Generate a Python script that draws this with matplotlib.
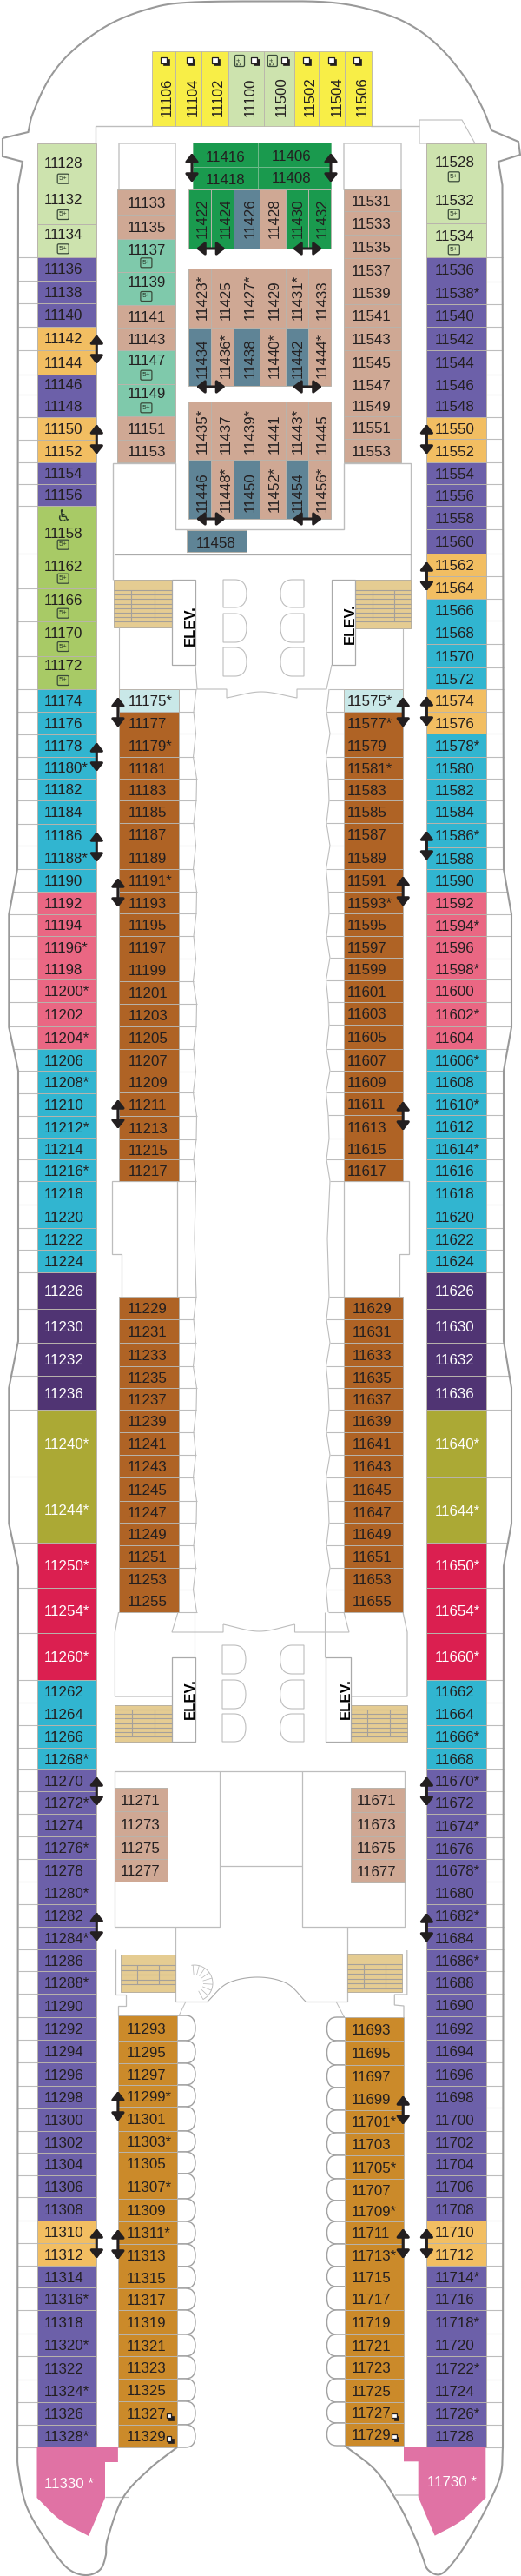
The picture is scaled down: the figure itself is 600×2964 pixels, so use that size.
import numpy as np
import matplotlib
matplotlib.use("Agg")
import matplotlib.pyplot as plt
from matplotlib.patches import Polygon, Rectangle, PathPatch, FancyBboxPatch
from matplotlib.path import Path

plt.rcParams['font.family'] = ['Liberation Sans', 'DejaVu Sans']

# ---------- cabin data (labels and categories) ----------
OUTER_L = ("11128 11132 11134 11136 11138 11140 11142 11144 11146 11148 11150 11152 11154 11156 11158 11162 11166 11170 11172 "
           "11174 11176 11178 11180* 11182 11184 11186 11188* 11190 11192 11194 11196* 11198 11200* 11202 11204* 11206 11208* 11210 "
           "11212* 11214 11216* 11218 11220 11222 11224 11226 11230 11232 11236 11240* 11244* 11250* 11254* 11260* 11262 11264 11266 "
           "11268* 11270 11272* 11274 11276* 11278 11280* 11282 11284* 11286 11288* 11290 11292 11294 11296 11298 11300 11302 11304 "
           "11306 11308 11310 11312 11314 11316* 11318 11320* 11322 11324* 11326 11328*").split()
OUTER_L_CAT = list("GGGPPPOOPPOOPPLLLLL" "CCCCCCCCC" "RRRRRRR" "CCCCCCCCCC" "DDDD" "VV" "XXX" "CCCC" "PPPPPPPPPPPPPPPPPPPP" "OO" "PPPPPPPP")
OUTER_R = ("11528 11532 11534 11536 11538* 11540 11542 11544 11546 11548 11550 11552 11554 11556 11558 11560 11562 11564 11566 11568 "
           "11570 11572 11574 11576 11578* 11580 11582 11584 11586* 11588 11590 11592 11594* 11596 11598* 11600 11602* 11604 11606* "
           "11608 11610* 11612 11614* 11616 11618 11620 11622 11624 11626 11630 11632 11636 11640* 11644* 11650* 11654* 11660* 11662 "
           "11664 11666* 11668 11670* 11672 11674* 11676 11678* 11680 11682* 11684 11686* 11688 11690 11692 11694 11696 11698 11700 "
           "11702 11704 11706 11708 11710 11712 11714* 11716 11718* 11720 11722* 11724 11726* 11728").split()
OUTER_R_CAT = list("GGGPPPPPPPOOPPPPOOCCCCOO" "CCCCCCC" "RRRRRRR" "CCCCCCCCCC" "DDDD" "VV" "XXX" "CCCC" "PPPPPPPPPPPPPPPPPPPP" "OO" "PPPPPPPP")
FWD_L = "11133 11135 11137 11139 11141 11143 11147 11149 11151 11153".split()
FWD_L_CAT = list("TTEETTEETT")
FWD_R = "11531 11533 11535 11537 11539 11541 11543 11545 11547 11549 11551 11553".split()
FWD_R_CAT = list("TTTTTTTTTTTT")
MID_L1 = ("11175* 11177 11179* 11181 11183 11185 11187 11189 11191* 11193 11195 11197 11199 11201 11203 11205 11207 11209 11211 11213 11215 11217").split()
MID_R1 = ("11575* 11577* 11579 11581* 11583 11585 11587 11589 11591 11593* 11595 11597 11599 11601 11603 11605 11607 11609 11611 11613 11615 11617").split()
MID_CAT = list("A" + "B" * 21)
MID_L2 = "11229 11231 11233 11235 11237 11239 11241 11243 11245 11247 11249 11251 11253 11255".split()
MID_R2 = "11629 11631 11633 11635 11637 11639 11641 11643 11645 11647 11649 11651 11653 11655".split()
ROOMS_L = "11271 11273 11275 11277".split()
ROOMS_R = "11671 11673 11675 11677".split()
AFT_L = ("11293 11295 11297 11299* 11301 11303* 11305 11307* 11309 11311* 11313 11315 11317 11319 11321 11323 11325 11327 11329").split()
AFT_R = ("11693 11695 11697 11699 11701* 11703 11705* 11707 11709* 11711 11713* 11715 11717 11719 11721 11723 11725 11727 11729").split()
TOP_ROW = "11106 11104 11102 11100 11500 11502 11504 11506".split()
TOP_CAT = list("YYYGGYYY")
GRID_TOP = [["11416", "11406"], ["11418", "11408"]]
GRID_ROWS = [
    ["11422", "11424", "11426", "11428", "11430", "11432"],
    ["11423*", "11425", "11427*", "11429", "11431*", "11433"],
    ["11434", "11436*", "11438", "11440*", "11442", "11444*"],
    ["11435*", "11437", "11439*", "11441", "11443*", "11445"],
    ["11446", "11448*", "11450", "11452*", "11454", "11456*"],
]
GRID_CATS = ["NNSTNN", "TTTTTT", "STSTST", "TTTTTT", "STSTST"]
EXTRA_CAB = "11458"
STERN = ["11330 *", "11730 *"]

# ---------- styles ----------
COL = dict(G='#CDE3AE', P='#6C60A9', O='#F2BE62', L='#A8CA66', C='#31B5D0', R='#EA6783', D='#503473', V='#ABA935',
           X='#DB1F50', T='#CFA894', E='#7FC9AB', A='#C9E8E8', B='#AF6325', F='#CB8A2A', Y='#F8EE47', N='#1A9A4E',
           S='#5F8496', H='#E072A4')
WHITE_TEXT = set('DVXH')
INK = '#231F20'
EDGE = '#B9B4AC'
LINE = '#BDBDBD'
HULL = '#999999'
STAIR = '#E5CC92'
FS = 12.2
BASE = 6.1

# ---------- layout (pixel space) ----------
Y_OL = [165,216.7,258,296,322.7,349,375.7,403,430.7,454,480,505.7,532,556.7,582,636.7,676.7,715,755,793,819,845,870.7,896,
        920.7,947.7,973.3,1000,1026,1051.7,1077,1103,1127,1153,1181,1207,1232,1258,1284,1309,1334,1359,1386,1413,1438,1464,
        1506,1545,1583,1622,1699,1775,1827,1879,1933,1959,1985,2011,2036,2061,2087,2113,2139,2165,2191,2217,2243,2268,2294,
        2321,2347,2373,2400,2426,2452,2477,2503,2528,2555,2581,2607,2632,2658,2685,2711,2738,2764,2790,2816]
Y_OR = [165,217,257,296,323.7,350,376,403,431,454,480,505,532,557,582,609,637,663,689,714,741,768,793,819,844,871,896,921,947,
        975,1000,1026,1052,1077,1103,1127,1153,1181,1207,1232,1258,1283,1309,1334,1359,1386,1413,1438,1464,1506,1545,1583,1622,
        1700,1775,1827,1879,1933,1959,1985,2011,2036,2061,2087,2114,2139,2165,2191,2217,2243,2268,2294,2320,2347,2373,2400,2425,
        2452,2477,2503,2528,2555,2581,2607,2632,2658,2685,2711,2738,2764,2790,2816]
Y_FL = [218,247,275,313,351,377,403,442,479,506,532]
Y_FR = [218,243,270,297,324,350,376,403,431,454,479,505,532]
Y_M1L = [793,819,844,871,896,921,947,973,1000,1026,1051,1077,1103,1129,1155,1181,1207,1233,1257,1284,1311,1334,1359]
Y_M1R = [793,819,844,871,896,921,947,973,1000,1026,1051,1077,1102,1128,1153,1179,1207,1232,1257,1283,1310,1334,1359]
Y_M2 = [1492,1518,1545,1572,1597,1622,1648,1674,1700,1727,1752,1778,1804,1829,1855]
Y_RL = [2057,2084,2113,2139,2165]
Y_RR = [2057,2085,2113,2139,2166]
Y_AL = [2319,2348,2374,2399,2424,2452,2476,2501,2530,2556,2582,2608,2633,2658,2686,2711,2737,2763,2790,2816]
Y_AR = [2321,2348,2376,2402,2428,2454,2480,2507,2532,2556,2582,2608,2631,2658,2686,2711,2737,2764,2788,2814]
LABEL_Y = {'11128':186.7,'11132':229,'11134':268.7,'11137':286.7,'11139':324,'11147':414,'11149':452,'11528':186,'11532':229.7,
           '11534':270.7,'11158':612.7,'11162':650.7,'11166':689.7,'11170':727.7,'11172':764.7}
ICONS_5 = [(72.7,205.7),(72.7,247),(72.7,286.3),(168.4,302.3),(168.4,341),(168.4,431.7),(168.4,469.3),(522.8,203.3),(522.8,246.7),
           (522.8,287.3),(72.7,626.7),(72.7,665.7),(72.7,705.7),(72.7,744),(72.7,783)]

fig = plt.figure(figsize=(6.0, 29.64), dpi=100)
ax = fig.add_axes([0, 0, 1, 1])
ax.set_xlim(0, 600)
ax.set_ylim(2964, 0)
ax.axis('off')


def smooth(pts, n=14):
    p = np.array(pts, float)
    p = np.vstack([2 * p[0] - p[1], p, 2 * p[-1] - p[-2]])
    out = []
    for i in range(1, len(p) - 2):
        for t in np.linspace(0, 1, n, endpoint=False):
            a, b, c, d = p[i - 1], p[i], p[i + 1], p[i + 2]
            out.append(0.5 * (2 * b + (c - a) * t + (2 * a - 5 * b + 4 * c - d) * t ** 2 + (3 * b - a - 3 * c + d) * t ** 3))
    out.append(p[-2])
    return np.array(out)


def poly(pts, color=LINE, lw=0.8, z=2):
    a = np.array(pts)
    ax.plot(a[:, 0], a[:, 1], color=color, lw=lw, solid_joinstyle='miter', solid_capstyle='butt', zorder=z)


def label(x, yc, s, color=INK, fs=FS):
    ax.text(x, yc + BASE, s, ha='left', va='baseline', color=color, fontsize=fs, zorder=6)


def vlabel(xc, ybottom, s, color=INK):
    ax.text(xc + BASE, ybottom, s, rotation=90, rotation_mode='anchor', ha='left', va='baseline', color=color, fontsize=FS, zorder=6)


def column(labels, cats, ys, x0, x1, tx):
    for i, s in enumerate(labels):
        c = cats[i]
        ax.add_patch(Rectangle((x0, ys[i]), x1 - x0, ys[i + 1] - ys[i], fc=COL[c], ec=EDGE, lw=0.7, zorder=3))
        yc = LABEL_Y.get(s, (ys[i] + ys[i + 1]) / 2)
        label(tx, yc, s, color='white' if c in WHITE_TEXT else INK)


def arrow(x0, y0, x1, y1):
    ax.annotate('', xy=(x1, y1), xytext=(x0, y0), zorder=7,
                arrowprops=dict(arrowstyle='<|-|>,head_length=0.28,head_width=0.22', lw=2.2, color=INK,
                                shrinkA=0, shrinkB=0, mutation_scale=20))


def icon5(x, y, rot=0):
    w, h = (13, 11) if rot == 0 else (11, 13)
    ax.add_patch(FancyBboxPatch((x - w / 2 + 1, y - h / 2 + 1), w - 2, h - 2, boxstyle='round,pad=1,rounding_size=1.5',
                                fc='none', ec='#3A4A3A', lw=0.9, zorder=6))
    ax.text(x, y, '5+', ha='center', va='center', fontsize=6, color='#2A3A2A', rotation=rot, zorder=6)


def copy_icon(x, y, s=7.0):
    ax.add_patch(Rectangle((x - s / 2 + 1.6, y - s / 2 + 1.6), s, s, fc=INK, ec=INK, lw=0.5, zorder=6))
    ax.add_patch(Rectangle((x - s / 2 - 1, y - s / 2 - 1), s, s, fc='white', ec=INK, lw=0.9, zorder=6))


def d_shape(x0, x1, y0, y1, flip=False):
    w = x1 - x0
    ym = (y0 + y1) / 2
    if not flip:
        v = [(x0, y0), (x0 + .5 * w, y0), (x1, y0), (x1, ym), (x1, y1), (x0 + .5 * w, y1), (x0, y1), (x0, y0)]
    else:
        v = [(x1, y0), (x1 - .5 * w, y0), (x0, y0), (x0, ym), (x0, y1), (x1 - .5 * w, y1), (x1, y1), (x1, y0)]
    codes = [Path.MOVETO, Path.LINETO, Path.CURVE3, Path.CURVE3, Path.CURVE3, Path.CURVE3, Path.LINETO, Path.CLOSEPOLY]
    ax.add_patch(PathPatch(Path(v, codes), fc='white', ec=LINE, lw=0.8, zorder=2))


def balcony(x0, x1, y0, y1):
    ym = (y0 + y1) / 2
    k = 0.45
    v = [(x0, y0), (x0 + (x1 - x0) * k, y0), (x1, y0), (x1, ym), (x1, y1), (x0 + (x1 - x0) * k, y1), (x0, y1)]
    codes = [Path.MOVETO, Path.LINETO, Path.CURVE3, Path.CURVE3, Path.CURVE3, Path.CURVE3, Path.LINETO]
    ax.add_patch(PathPatch(Path(v, codes), fc='white', ec='#A0A0A0', lw=1.0, zorder=2))


def stairs(x0, x1, y0, y1, ytop, xs, ystep=5.2):
    ax.add_patch(Rectangle((x0, y0), x1 - x0, y1 - y0, fc=STAIR, ec='#B8B0A0', lw=0.7, zorder=2))
    y = ytop
    while y < y1 - 4:
        poly([(x0, y), (x1, y)], color='#A5A09A', lw=0.8, z=2.5)
        y += ystep
    for x in xs:
        poly([(x, ytop), (x, y - ystep)], color='#A5A09A', lw=0.8, z=2.5)


# ---------- hull ----------
TOP_HULL = [(3, 159), (32.5, 152), (38, 130), (57, 90), (84, 58), (126, 28), (172, 10), (214, 3), (298, 1.5), (383, 3), (440, 15),
            (478, 32), (509, 57), (536, 90), (555, 123), (566, 150)]
top = smooth(TOP_HULL[1:])
HL = np.array([(26,186),(21,213),(20,1000),(10.3,1052),(10.3,1182),(21,1232),(21,1543),(10.3,1597),(10.3,1753),(21,1803),(20,2816)])
HR = np.array([(574,186),(578.5,213),(580,1000),(589,1052),(589,1182),(580,1232),(580,1543),(589,1597),(589,1753),(580,1802),(579,2816)])
stern_l = smooth([(20,2816),(21,2841),(30.6,2884),(53.6,2924),(76.5,2954),(97.6,2963),(115,2957),(121.7,2941),(124,2921),(141.6,2874),(172,2841),(204,2816)])
stern_r = smooth([(579,2816),(576.7,2847),(563,2880),(543,2917),(523,2947),(507,2962),(493,2957),(487,2943),(478,2920),(460,2883),(433,2843),(397,2814)])
hull_pts = np.vstack([[(3, 159)], top, [(597, 163), (599, 178), (574, 186)], HR[1:], stern_r])
poly(hull_pts, color=HULL, lw=1.5, z=4)
poly(np.vstack([[(3, 159), (3, 180), (26, 186)], HL[1:], stern_l]), color=HULL, lw=1.5, z=4)
for y in Y_OL[3:]:
    poly([(np.interp(y, HL[:, 1], HL[:, 0]), y), (42.5, y)], lw=0.8)
for y in Y_OR[3:]:
    poly([(559.5, y), (np.interp(y, HR[:, 1], HR[:, 0]), y)], lw=0.8)

# ---------- interior outline: forward ----------
poly([(110, 165), (110, 145), (175, 145)], lw=1.0)
poly([(427, 145), (483, 145)], lw=1.0)
poly([(483, 165), (483, 138), (532, 138), (547, 165), (483, 165)], lw=0.8)
for x0, x1 in [(137, 202), (396, 462)]:
    ax.add_patch(Rectangle((x0, 165), x1 - x0, 53, fc='white', ec='#C8C8C8', lw=1.1, zorder=2))
poly([(130, 667), (130, 533), (202, 533), (202, 609), (396, 609), (396, 533), (473.4, 533), (473.4, 723)], lw=1.0)
poly([(132, 638), (473, 638)], color='#AAAAAA', lw=0.9)
stairs(130.5, 198, 667, 722, 679, [151, 178])
stairs(408.7, 473.4, 667, 723, 679, [428.6, 454])
for x0, x1 in [(198, 225), (382, 409)]:
    ax.add_patch(Rectangle((x0, 667), x1 - x0, 98, fc='white', ec='#AAAAAA', lw=0.9, zorder=2))
ax.text(219.5, 720, 'ELEV.', rotation=90, ha='center', va='center', fontsize=12, fontweight='bold', color='black', zorder=6)
ax.text(403, 718, 'ELEV.', rotation=90, ha='center', va='center', fontsize=12, fontweight='bold', color='black', zorder=6)
for y0, y1 in [(667, 699), (706, 739), (745, 778)]:
    d_shape(257, 284, y0, y1)
    d_shape(323, 350, y0, y1, flip=True)
poly([(137.4, 722), (137.4, 793)], lw=0.8)
poly([(464, 723), (464, 793)], lw=0.8)
poly(np.vstack([[(225, 765), (227, 793), (261, 793), (261, 803)], smooth([(261, 803), (301, 796), (342, 803)]), [(342, 793), (376, 793), (382, 765)]]), lw=0.8)

# balcony strips, mid-ship
WX_L = [226, 223, 225.5, 222.5, 226.5]
WX_R = [379, 376, 380, 375.5, 378]
for ys_l, ys_r in [(Y_M1L, Y_M1R), (Y_M2, Y_M2)]:
    wl = [(WX_L[i % 5], y) for i, y in enumerate(ys_l)]
    wr = [(WX_R[i % 5], y) for i, y in enumerate(ys_r)]
    poly(wl, lw=0.8)
    poly(wr, lw=0.8)
    for x, y in wl:
        poly([(205.5, y), (x, y)], lw=0.8)
    for x, y in wr:
        poly([(x, y), (395.7, y)], lw=0.8)
poly([(WX_L[2], 1359), (224, 1425), (WX_L[0], 1492)], lw=0.8)
poly([(WX_R[2], 1359), (377, 1425), (WX_R[0], 1492)], lw=0.8)
poly([(205.5, 1359), (129, 1359), (129, 1443), (139.7, 1443), (139.7, 1492)], lw=0.9)
poly([(204, 1359), (204, 1492)], lw=0.9)
poly([(395.7, 1359), (470.7, 1359), (470.7, 1443), (460.4, 1443), (460.4, 1492)], lw=0.9)
poly([(395.7, 1359), (395.7, 1492)], lw=0.9)

# ---------- interior outline: aft ----------
poly([(136.6, 1855), (132.4, 1878), (132.4, 1952), (198, 1952)], lw=0.9)
poly([(205, 1855), (198, 1878), (257, 1878), (257, 1869)], lw=0.8)
poly(smooth([(257, 1869), (298.5, 1877), (339.5, 1869)]), lw=0.8)
poly([(339.5, 1869), (339.5, 1878), (402, 1878), (396, 1855)], lw=0.8)
poly([(464, 1855), (469, 1878), (469, 1952), (404, 1952)], lw=0.9)
poly([(224, 1855), (224, 1907)], lw=0.8)
poly([(374, 1855), (374, 1907)], lw=0.8)
stairs(132.4, 198, 1962, 2004, 1967, [152, 178])
stairs(403.7, 468.8, 1962, 2004, 1967, [423, 448.5])
for x0, x1 in [(198, 225), (374.7, 403.7)]:
    ax.add_patch(Rectangle((x0, 1907), x1 - x0, 97, fc='white', ec='#AAAAAA', lw=0.9, zorder=2))
ax.text(219.5, 1955, 'ELEV.', rotation=90, ha='center', va='center', fontsize=12, fontweight='bold', color='black', zorder=6)
ax.text(398, 1955, 'ELEV.', rotation=90, ha='center', va='center', fontsize=12, fontweight='bold', color='black', zorder=6)
for y0, y1 in [(1893, 1926), (1933, 1966), (1972, 2004)]:
    d_shape(256, 283, y0, y1)
    d_shape(322.6, 350, y0, y1, flip=True)
for x0, x1 in [(131.6, 253.4), (348, 465.8)]:
    ax.add_patch(Rectangle((x0, 2038), x1 - x0, 179, fc='white', ec=LINE, lw=0.9, zorder=2))
poly([(253.4, 2038), (348, 2038)], lw=0.9)
poly([(253.4, 2147), (348, 2147)], lw=0.9)
poly([(202, 2217), (202, 2303), (239, 2303)], lw=0.9)
poly(smooth([(239, 2303), (262, 2282), (296.6, 2275), (330, 2282), (352, 2303)]), color='#AAAAAA', lw=0.8)
poly([(352, 2303), (399.5, 2303), (399.5, 2217)], lw=0.9)
stairs(139, 202, 2249, 2292, 2261, [158, 183], ystep=5.5)
stairs(399.5, 462.7, 2248, 2292, 2260, [418.7, 443.6], ystep=5.5)
poly([(132.8, 2243), (132.8, 2295), (145.4, 2295), (145.4, 2308), (135.9, 2308), (135.9, 2319)], lw=0.9)
poly([(468.8, 2244), (468.8, 2295), (454.3, 2295), (454.3, 2307), (465, 2308), (465, 2321)], lw=0.9)
poly([(214, 2303), (204.7, 2322)], lw=0.7)
poly([(387, 2303), (397, 2322)], lw=0.7)
th = np.radians(np.linspace(-100, 62, 40))
poly(np.c_[224 + 21 * np.cos(th), 2282 + 21 * np.sin(th)], color='#B5B5B5', lw=0.6)
th2 = np.radians(np.linspace(-95, 62, 9))
for t in th2:
    poly([(224 + 10 * np.cos(t), 2282 + 10 * np.sin(t)), (224 + 21 * np.cos(t), 2282 + 21 * np.sin(t))], color='#B5B5B5', lw=0.5)
for i in range(len(Y_AL) - 1):
    balcony(204.4, 225, Y_AL[i], Y_AL[i + 1])
for i in range(len(Y_AR) - 1):
    balcony(397, 376.5, Y_AR[i], Y_AR[i + 1])

# ---------- cabins ----------
column(OUTER_L, OUTER_L_CAT, Y_OL, 42.5, 111, 51)
column(OUTER_R, OUTER_R_CAT, Y_OR, 491.4, 559.5, 500.5)
column(FWD_L, FWD_L_CAT, Y_FL, 135, 202, 146.6)
column(FWD_R, FWD_R_CAT, Y_FR, 396, 462, 405)
column(MID_L1, MID_CAT, Y_M1L, 137.4, 205.5, 147.5)
column(MID_R1, MID_CAT, Y_M1R, 395.7, 463.8, 399.5)
column(MID_L2, ['B'] * 14, Y_M2, 137.4, 205.5, 147)
column(MID_R2, ['B'] * 14, Y_M2, 395.7, 463.8, 405.5)
column(ROOMS_L, ['T'] * 4, Y_RL, 131.6, 193.3, 138.5)
column(ROOMS_R, ['T'] * 4, Y_RR, 404, 465.8, 410.6)
column(AFT_L, ['F'] * 19, Y_AL, 135.9, 204.4, 145.4)
column(AFT_R, ['F'] * 19, Y_AR, 396.9, 465, 404.5)

TOP_X = [175.3, 201.7, 231.5, 262.5, 303.5, 338.7, 366.6, 396.9, 427.5]
TOP_TX = [191, 221, 250, 287, 323, 356, 386.5, 415.6]
for i, s in enumerate(TOP_ROW):
    ax.add_patch(Rectangle((TOP_X[i], 59.3), TOP_X[i + 1] - TOP_X[i], 85.7, fc=COL[TOP_CAT[i]], ec=EDGE, lw=0.6, zorder=3))
    vlabel(TOP_TX[i], 134, s)
for x in [189.4, 219, 248, 293.5, 328, 353, 382, 411]:
    copy_icon(x, 70)
icon5(276, 70, rot=90)
icon5(313.8, 70, rot=90)

GT_X = [222, 296.6, 381]
GT_Y = [164, 192, 218]
GT_TX = [237, 313]
GT_TY = [[180, 179], [205.7, 204]]
for r in range(2):
    for c in range(2):
        ax.add_patch(Rectangle((GT_X[c], GT_Y[r]), GT_X[c + 1] - GT_X[c], GT_Y[r + 1] - GT_Y[r], fc=COL['N'], ec='#6FB98A', lw=0.7, zorder=3))
        label(GT_TX[c], GT_TY[r][c], GRID_TOP[r][c])

GX = [216.6, 242.6, 268.7, 298.9, 329, 354.8, 380.8]
GTX = [232, 258.5, 286.5, 315, 342, 370]
GY = [(218, 286, 274), (309, 377, 368), (377, 444, 435), (462, 529, 521.7), (529, 597, 589)]
for r, (y0, y1, yb) in enumerate(GY):
    for c in range(6):
        k = GRID_CATS[r][c]
        ax.add_patch(Rectangle((GX[c], y0), GX[c + 1] - GX[c], y1 - y0, fc=COL[k], ec=EDGE, lw=0.7, zorder=3))
        vlabel(GTX[c], yb, GRID_ROWS[r][c])
ax.add_patch(Rectangle((215, 610), 68.6, 25, fc=COL['S'], ec=EDGE, lw=0.7, zorder=3))
label(226, 624, EXTRA_CAB)


# stern cabins
def stern_poly(pts, curve):
    c = smooth(curve, n=10)
    ax.add_patch(Polygon(np.vstack([pts[0], c, pts[1]]) if False else np.vstack(pts), closed=True, fc=COL['H'], ec='none', zorder=3))


stern_poly([np.array([(42.5, 2815.7), (135.9, 2815.7), (135.9, 2833), (121, 2833), (121, 2874)]),
            smooth([(102, 2918), (70, 2900), (42.5, 2874)], n=10)], None) if False else None
ax.add_patch(Polygon(np.vstack([[(42.5, 2815.7), (135.9, 2815.7), (135.9, 2833), (121, 2833), (121, 2874)],
                                smooth([(102, 2918), (70, 2900), (42.5, 2874)], n=10)]),
                     closed=True, fc=COL['H'], ec='none', zorder=3))
ax.add_patch(Polygon(np.vstack([[(465, 2815.7), (559.3, 2815.7)],
                                smooth([(559.3, 2874), (532, 2900), (500.7, 2917.7)], n=10),
                                [(481.7, 2873.3), (481.7, 2832.3), (465, 2832.3)]]),
                     closed=True, fc=COL['H'], ec='none', zorder=3))
poly([(121, 2873), (148, 2873)], lw=0.9)
poly([(455, 2871), (481.7, 2871)], color='#CCCCCC', lw=1.2)
label(51, 2857, STERN[0], color='white')
label(492, 2855, STERN[1], color='white')

# ---------- symbols ----------
for x, y in ICONS_5:
    icon5(x, y)
ax.text(72.7, 595, '\u267F', ha='center', va='center', fontsize=14, color='#2A3A2A', family='DejaVu Sans', zorder=6)
for x, y in [(195.6, 2780.7), (195.6, 2807), (455, 2780.7), (455, 2804.7)]:
    copy_icon(x, y, s=5.5)

V_ARROWS = [(111.3, 385, 419), (111.3, 488, 523), (111.3, 854, 888), (111.3, 957, 992), (111.3, 2044, 2078), (111.3, 2200, 2234), (111.3, 2564, 2599),
            (135.9, 802, 837), (135.9, 1010, 1044), (135.9, 1265, 1299), (135.9, 2406, 2441), (135.9, 2565, 2600),
            (464.2, 802, 837), (464.2, 1008, 1043), (464.2, 1267, 1301), (464.2, 2411, 2445), (464.2, 2564, 2599),
            (491.4, 488, 523), (491.4, 646, 680), (491.4, 801, 836), (491.4, 956, 990), (491.4, 2044, 2078), (491.4, 2201, 2235), (491.4, 2564, 2599),
            (221, 176, 210), (381, 176, 210)]
for x, y0, y1 in V_ARROWS:
    arrow(x, y0, x, y1)
for y in [286, 445, 597]:
    arrow(226, y, 259.5, y)
    arrow(337, y, 371, y)

fig.savefig('out.png', dpi=100, facecolor='white')
